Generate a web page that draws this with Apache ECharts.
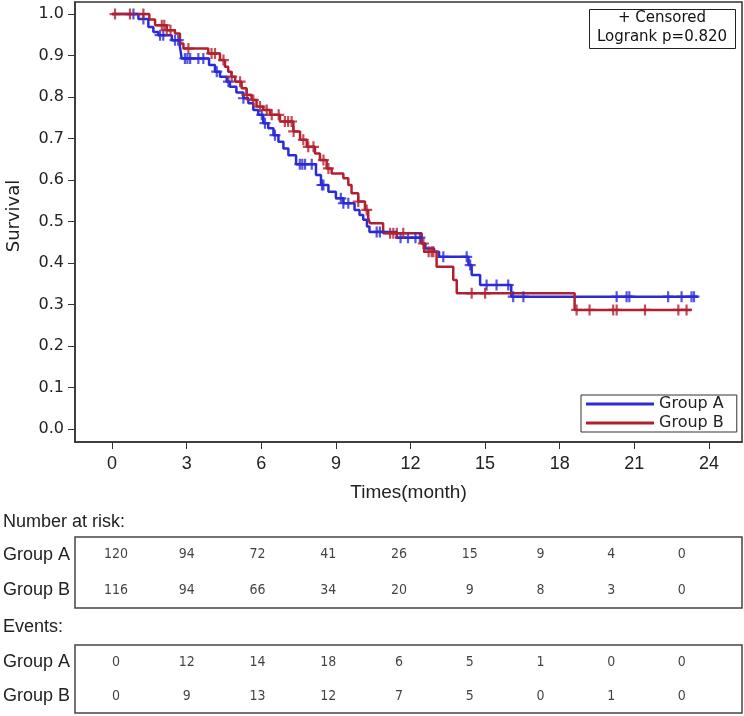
<!DOCTYPE html>
<html>
<head>
<meta charset="UTF-8">
<title>Survival</title>
<script src="https://cdn.jsdelivr.net/npm/echarts@6/dist/echarts.min.js"></script>
<style>html,body{margin:0;padding:0;background:#fff;}</style>
</head>
<body>
<div id="main" style="width:744px;height:716px;"></div>
<script>
var groups = ['Group A', 'Group B'];
var colors = ['#2b2bd6', '#b2202f'];

// KM steps: [time, survival after the drop]
var stepsA = [[0,1.0],[1.06,0.988],[1.46,0.969],[1.66,0.957],[1.86,0.949],[2.4,0.937],[2.73,0.921],[2.8,0.893],
  [3.9,0.877],[4.14,0.861],[4.34,0.849],[4.61,0.837],[4.74,0.825],[5.0,0.811],[5.28,0.797],[5.48,0.785],
  [5.68,0.769],[5.88,0.757],[6.08,0.737],[6.28,0.725],[6.49,0.708],[6.69,0.692],[6.89,0.676],[7.09,0.66],
  [7.4,0.638],[8.2,0.612],[8.4,0.588],[8.7,0.572],[9.0,0.556],[9.3,0.544],[9.75,0.528],[9.95,0.516],
  [10.1,0.504],[10.25,0.488],[10.35,0.475],[11.45,0.461],[12.45,0.447],[12.6,0.435],[12.95,0.427],
  [13.15,0.415],[14.33,0.395],[14.46,0.371],[14.8,0.347],[16.05,0.319]];
var endA = 23.56;
var censA = [0.86,1.26,1.93,2.06,2.53,2.66,2.93,3.03,3.14,3.47,3.67,4.21,4.68,5.28,6.02,6.15,6.55,7.55,7.65,
  7.76,8.03,8.44,8.5,9.2,9.3,9.5,10.64,10.77,11.6,11.9,12.2,12.38,13.32,14.26,14.4,15.06,15.46,15.93,16.13,
  16.54,20.29,20.69,20.8,22.36,22.9,23.3,23.4];

var stepsB = [[0,1.0],[1.5,0.987],[1.73,0.973],[2.2,0.961],[2.53,0.953],[2.73,0.929],[2.87,0.917],[3.87,0.905],
  [4.34,0.889],[4.54,0.873],[4.67,0.861],[4.8,0.849],[4.95,0.837],[5.21,0.821],[5.41,0.805],[5.61,0.793],
  [5.81,0.777],[6.08,0.769],[6.35,0.757],[6.75,0.741],[7.29,0.717],[7.56,0.697],[7.83,0.68],[8.16,0.664],
  [8.36,0.648],[8.63,0.628],[8.83,0.616],[9.3,0.604],[9.5,0.588],[9.63,0.568],[9.9,0.548],[10.17,0.528],
  [10.3,0.508],[10.37,0.496],[10.9,0.472],[12.45,0.447],[12.55,0.427],[13.05,0.391],[13.72,0.359],
  [13.86,0.327],[18.6,0.287]];
var endB = 23.3;
var censB = [0.12,0.72,1.26,2.0,2.1,2.2,2.35,3.07,4.0,4.14,4.48,4.81,5.15,5.42,5.68,5.95,6.22,6.42,6.7,6.95,
  7.08,7.22,7.3,7.69,7.89,8.1,8.5,8.7,9.9,10.24,11.18,11.31,11.45,11.71,12.52,12.73,12.85,12.92,14.46,15.0,
  18.68,19.2,20.15,20.29,21.43,22.77,23.1];

var timeTicks = [0, 3, 6, 9, 12, 15, 18, 21, 24];
var survTicks = [0, 0.1, 0.2, 0.3, 0.4, 0.5, 0.6, 0.7, 0.8, 0.9, 1.0];

var riskA = [120, 94, 72, 41, 26, 15, 9, 4, 0];
var riskB = [116, 94, 66, 34, 20, 9, 8, 3, 0];
var eventsA = [0, 12, 14, 18, 6, 5, 1, 0, 0];
var eventsB = [0, 9, 13, 12, 7, 5, 0, 1, 0];

var myChart = echarts.init(document.getElementById('main'));

function levelAt(steps, t) {
  var s = steps[0][1];
  for (var i = 0; i < steps.length; i++) {
    if (steps[i][0] <= t) s = steps[i][1];
  }
  return s;
}

var plus = 'path://M4,0H6V4H10V6H6V10H4V6H0V4H4Z';
var numFont = '"Liberation Sans Narrow", "DejaVu Sans Condensed", "Liberation Sans", sans-serif';

function tableRows(a, b) {
  var rows = [];
  a.forEach(function (v, i) { rows.push([i, groups[0], v]); });
  b.forEach(function (v, i) { rows.push([i, groups[1], v]); });
  return rows;
}

var series = [];
[[stepsA, endA, censA], [stepsB, endB, censB]].forEach(function (g, k) {
  var line = g[0].slice();
  line.push([g[1], g[0][g[0].length - 1][1]]);
  series.push({
    name: groups[k], type: 'line', step: 'end', symbol: 'none',
    data: line, z: 3 + k,
    lineStyle: { color: colors[k], width: 2.5 },
    itemStyle: { color: colors[k] }
  });
});
[[stepsA, censA], [stepsB, censB]].forEach(function (g, k) {
  series.push({
    name: groups[k] + ' censored', type: 'scatter', symbol: plus, symbolSize: 11,
    z: 5 + k,
    itemStyle: { color: colors[k] },
    data: g[1].map(function (t) { return [t, levelAt(g[0], t)]; })
  });
});

// number at risk / events tables
[[riskA, riskB], [eventsA, eventsB]].forEach(function (tb, k) {
  series.push({
    type: 'scatter', xAxisIndex: k + 1, yAxisIndex: k + 1, symbolSize: 1,
    itemStyle: { color: 'rgba(0,0,0,0)' }, silent: true,
    label: {
      show: true, position: 'inside', color: '#111',
      fontFamily: numFont, fontSize: 14,
      formatter: function (p) { return p.value[2]; }
    },
    data: tableRows(tb[0], tb[1])
  });
});

var tableX = function (i) {
  return { gridIndex: i, type: 'value', min: -0.58, max: 8.85, show: false };
};
var tableY = function (i) {
  return {
    gridIndex: i, type: 'category', data: groups, inverse: true,
    axisLine: { show: false }, axisTick: { show: false },
    axisLabel: { fontFamily: 'Liberation Sans', fontSize: 18, color: '#222', margin: 5 }
  };
};

var gridBase = { left: 75, right: 2, show: true, borderWidth: 1.5, outerBoundsMode: 'none', containLabel: false };

var option = {
  animation: false,
  backgroundColor: '#fff',
  grid: [
    Object.assign({}, gridBase, { top: 2, height: 440, borderColor: '#333' }),
    Object.assign({}, gridBase, { top: 537, height: 71, borderColor: '#444' }),
    Object.assign({}, gridBase, { top: 645, height: 68, borderColor: '#444' })
  ],
  legend: {
    data: groups, orient: 'vertical', left: 581, top: 395,
    icon: 'rect', itemWidth: 68, itemHeight: 3, itemGap: 3,
    borderColor: '#333', borderWidth: 1, borderRadius: 0, padding: [1, 13, 1, 5],
    textStyle: { fontFamily: 'DejaVu Sans', fontSize: 16, color: '#222' }
  },
  xAxis: [
    {
      gridIndex: 0, type: 'value', min: -1.49, max: 25.33,
      name: 'Times(month)', nameLocation: 'middle', nameGap: 41,
      nameTextStyle: { fontFamily: 'Liberation Sans', fontSize: 19, color: '#222' },
      axisLine: { onZero: false, lineStyle: { color: '#333', width: 1.5 } },
      axisTick: { customValues: timeTicks, length: 7, lineStyle: { color: '#333' } },
      axisLabel: { customValues: timeTicks, fontFamily: 'Liberation Sans', fontSize: 18, color: '#222', margin: 13 },
      splitLine: { show: false }
    },
    tableX(1), tableX(2)
  ],
  yAxis: [
    {
      gridIndex: 0, type: 'value', min: -0.0313, max: 1.029,
      name: 'Survival', nameLocation: 'middle', nameGap: 52, nameRotate: 90,
      nameTextStyle: { fontFamily: 'DejaVu Sans', fontSize: 18, color: '#222', padding: [0, 0, 0, 12] },
      axisLine: { onZero: false, lineStyle: { color: '#333', width: 1.5 } },
      axisTick: { customValues: survTicks, length: 7, lineStyle: { color: '#333' } },
      axisLabel: {
        customValues: survTicks, fontFamily: 'DejaVu Sans', fontSize: 16, color: '#222', margin: 11,
        formatter: function (v) { return v.toFixed(1); }
      },
      splitLine: { show: false }
    },
    tableY(1), tableY(2)
  ],
  graphic: [
    { type: 'rect', left: 589, top: 9, shape: { width: 146, height: 39 },
      style: { fill: '#fff', stroke: '#222', lineWidth: 1 }, z: 10 },
    { type: 'text', x: 662, y: 18.5, z: 11,
      style: { text: '+ Censored', align: 'center', verticalAlign: 'middle', fill: '#111',
        font: '15px "DejaVu Sans"' } },
    { type: 'text', x: 662, y: 37, z: 11,
      style: { text: 'Logrank p=0.820', align: 'center', verticalAlign: 'middle', fill: '#111',
        font: '15px "DejaVu Sans"' } },
    { type: 'text', x: 3, y: 522,
      style: { text: 'Number at risk:', verticalAlign: 'middle', fill: '#222',
        font: '18px "Liberation Sans"' } },
    { type: 'text', x: 3, y: 627,
      style: { text: 'Events:', verticalAlign: 'middle', fill: '#222',
        font: '18px "Liberation Sans"' } }
  ],
  series: series
};

myChart.setOption(option);
</script>
</body>
</html>
